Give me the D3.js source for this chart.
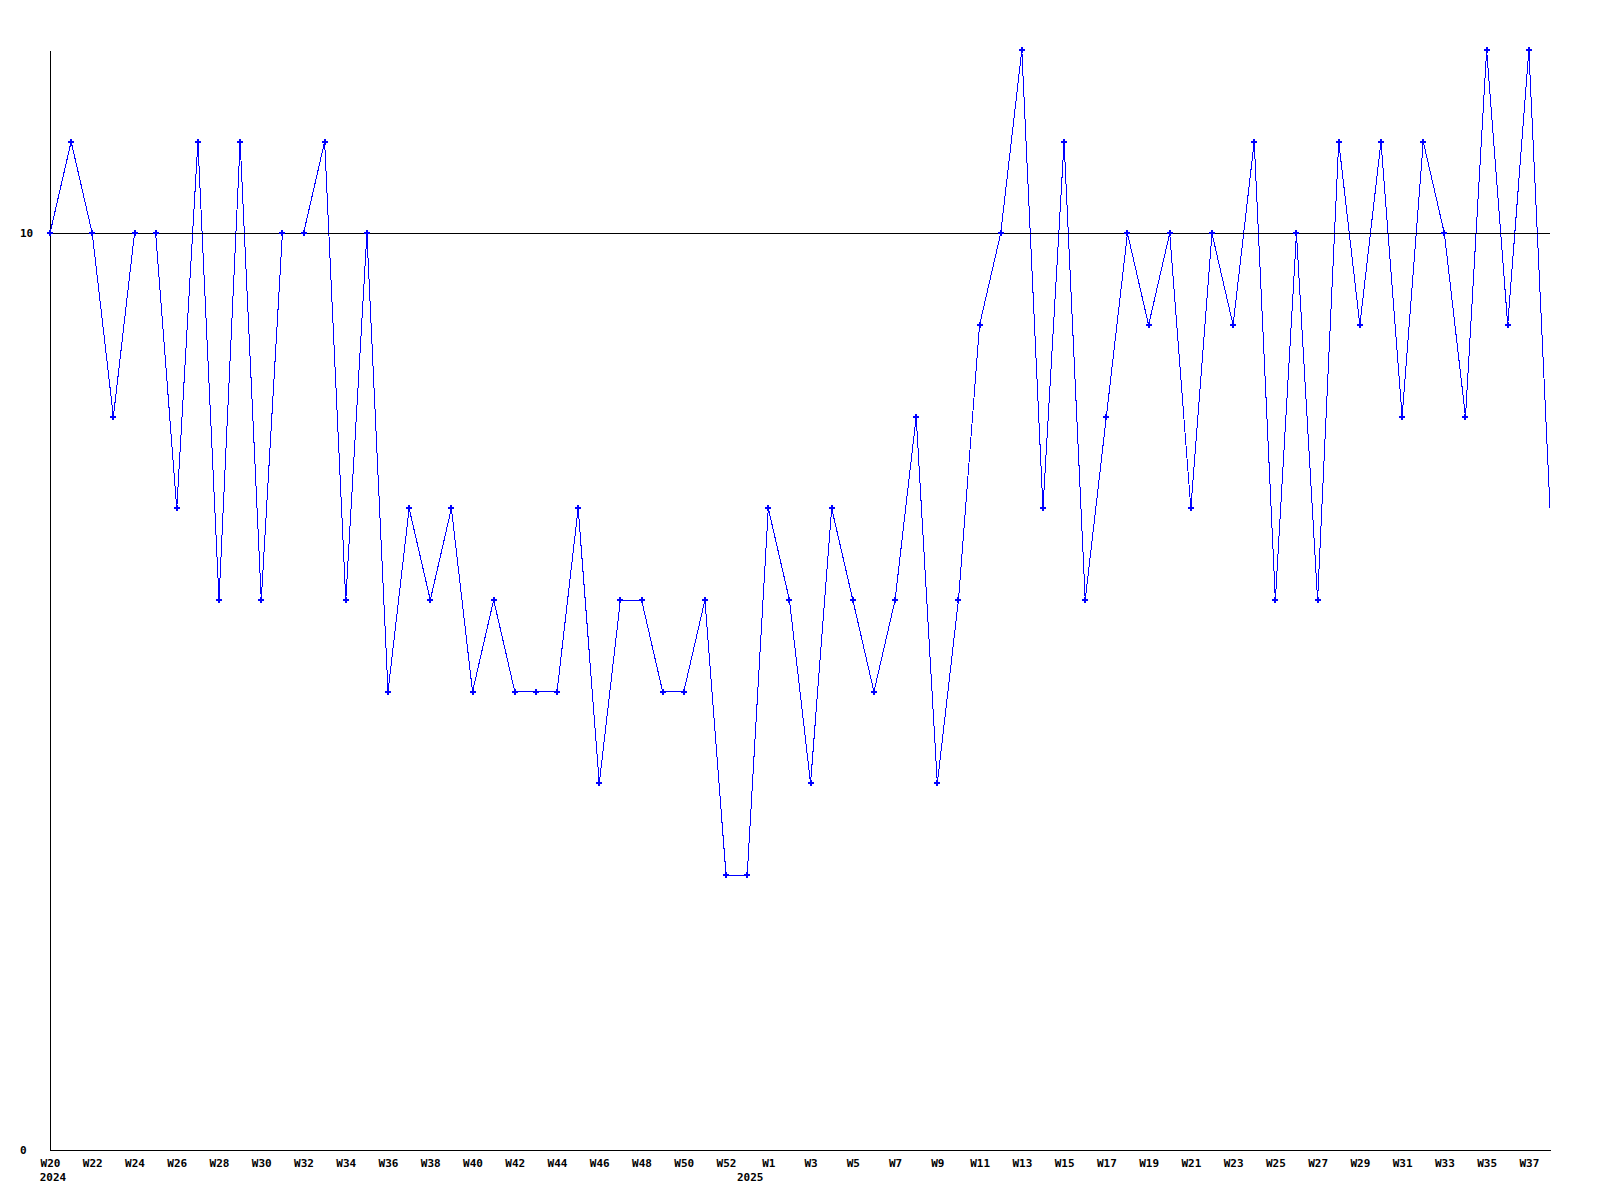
<!DOCTYPE html>
<html>
<head>
<meta charset="utf-8">
<script src="https://cdn.jsdelivr.net/npm/d3@7"></script>
<style>
  html, body { margin: 0; padding: 0; background: #fff; }
  svg { display: block; }
  text { font-family: "DejaVu Sans Mono", "Liberation Mono", monospace; font-weight: bold; font-size: 11px; fill: #000; }
</style>
</head>
<body>
<script>
// Weekly counts, W20 2024 .. W38 2025 (2024 includes a W53)
const weeks = [
  "W20","W21","W22","W23","W24","W25","W26","W27","W28","W29","W30","W31","W32","W33","W34","W35","W36",
  "W37","W38","W39","W40","W41","W42","W43","W44","W45","W46","W47","W48","W49","W50","W51","W52","W53",
  "W1","W2","W3","W4","W5","W6","W7","W8","W9","W10","W11","W12","W13","W14","W15","W16","W17","W18",
  "W19","W20","W21","W22","W23","W24","W25","W26","W27","W28","W29","W30","W31","W32","W33","W34","W35",
  "W36","W37","W38"
];
const values = [
  10,11,10,8,10,10,7,11,6,11,6,10,10,11,6,10,5,
  7,6,7,5,6,5,5,5,7,4,6,6,5,5,6,3,3,
  7,6,4,7,6,5,6,8,4,6,9,10,12,7,11,6,8,
  10,9,10,7,10,9,11,6,10,6,11,9,11,8,11,10,8,
  12,9,12,7
];
const yearLabels = ["2024", "2025"];
const yearStartIndex = [0, 33];
const yTickValues = [0, 10];
const refValue = 10;
const yMax = 12;

(function () {
const W = 1600, H = 1200;
const mLeft = 50, mRight = 1550, mTop = 50, mBottom = 1150;

const svg = d3.select("body").append("svg").attr("width", W).attr("height", H);

const x = d3.scaleLinear().domain([0, values.length - 1]).range([mLeft, mRight]);
const y = d3.scaleLinear().domain([0, yMax]).range([mBottom, mTop]);

// x axis with labels every 2 weeks
const tickIdx = d3.range(0, values.length, 2);
const xAxis = d3.axisBottom(x)
  .tickValues(tickIdx)
  .tickFormat(i => weeks[i])
  .tickSizeInner(0).tickSizeOuter(0).tickPadding(9);
const gx = svg.append("g").attr("transform", `translate(0,${mBottom})`).call(xAxis);
gx.attr("font-size", null).attr("font-family", null);
gx.select(".domain").attr("stroke", "#000").attr("shape-rendering", "crispEdges");

// year labels
svg.selectAll("text.year").data(yearLabels).enter().append("text")
  .attr("class", "year")
  .attr("x", (d, i) => x(yearStartIndex[i]))
  .attr("dx", 3)
  .attr("y", mBottom + 31)
  .attr("text-anchor", "middle")
  .text(d => d);

// y axis
const yAxis = d3.axisLeft(y).tickValues(yTickValues).tickFormat(d3.format("d"))
  .tickSizeInner(0).tickSizeOuter(0).tickPadding(0);
const gy = svg.append("g").attr("transform", `translate(${mLeft},0)`).call(yAxis);
gy.attr("font-size", null).attr("font-family", null);
gy.select(".domain").attr("stroke", "#000").attr("shape-rendering", "crispEdges");
gy.selectAll("text").attr("text-anchor", "start").attr("x", -30);

// data line
const line = d3.line().x((d, i) => x(i)).y(d => y(d));
svg.append("path").datum(values)
  .attr("d", line)
  .attr("fill", "none")
  .attr("stroke", "#0000ff")
  .attr("stroke-width", 1)
  .attr("shape-rendering", "crispEdges");

// reference line at 10
svg.append("line")
  .attr("x1", x(0)).attr("x2", x(values.length - 1))
  .attr("y1", y(refValue)).attr("y2", y(refValue))
  .attr("stroke", "#000").attr("stroke-width", 1)
  .attr("shape-rendering", "crispEdges");

// markers (last point has none in the reference)
const sym = d3.symbol().type(d3.symbolCross).size(20);
svg.selectAll("path.mk").data(values.slice(0, values.length - 1)).enter().append("path")
  .attr("class", "mk")
  .attr("d", sym)
  .attr("transform", (d, i) => `translate(${x(i)},${y(d)})`)
  .attr("fill", "#0000ff")
  .attr("shape-rendering", "crispEdges");
})();
</script>
</body>
</html>
